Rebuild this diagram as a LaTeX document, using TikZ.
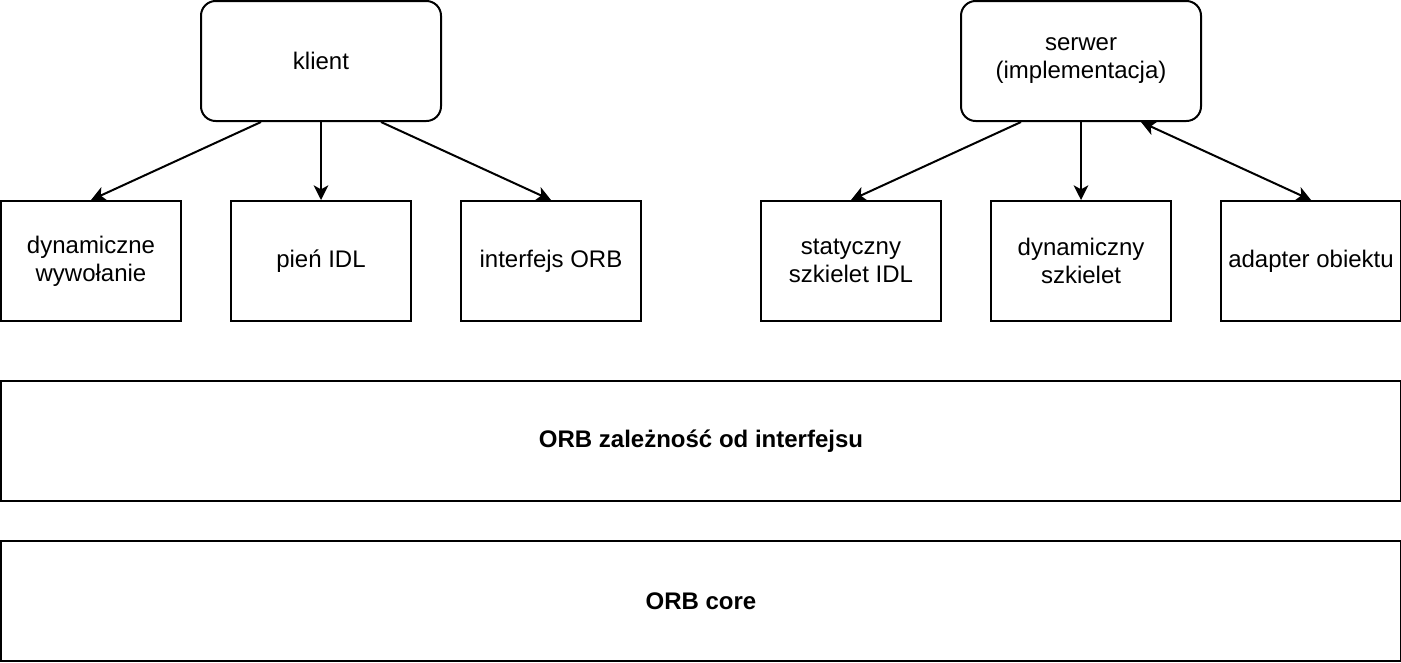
\documentclass[tikz,border=0pt]{standalone}
\usepackage{fontspec}
\setmainfont{Liberation Sans}
\usetikzlibrary{arrows.meta}

\begin{document}
\begin{tikzpicture}[x=0.75pt,y=-0.75pt,
  font=\fontsize{18}{21}\selectfont,
  box/.style={draw,line width=1.5pt,minimum width=135pt,minimum height=90pt,align=center,inner sep=2pt},
  top/.style={box,rounded corners=11pt,minimum width=180pt},
  layer/.style={box,minimum width=1050pt,font=\fontsize{18}{21}\selectfont\bfseries},
  tip/.tip={Stealth[length=11pt,width=11pt,inset=3pt]},
  arr/.style={line width=1.5pt,-tip}]
\useasboundingbox (-1,-1) rectangle (1400,661);

\node[top] (klient) at (320,60) {klient};
\node[top] (serwer) at (1080,60) {serwer\\(implementacja)};

\node[box] (dynwyw) at (90,260) {dynamiczne\\wywołanie};
\node[box] (pien) at (320,260) {pień IDL};
\node[box] (interf) at (550,260) {interfejs ORB};

\node[box] (statsz) at (850,260) {statyczny\\szkielet IDL};
\node[box] (dynsz) at (1080,260) {dynamiczny\\szkielet};
\node[box] (adapter) at (1310,260) {adapter obiektu};

\node[layer] (zalez) at (700,440) {ORB zależność od interfejsu};
\node[layer] (core) at (700,600) {ORB core};

\draw[arr] ([xshift=-45pt]klient.south) to (dynwyw.north);
\draw[arr] (klient) to (pien);
\draw[arr] ([xshift=45pt]klient.south) to (interf.north);

\draw[arr] ([xshift=-45pt]serwer.south) to (statsz.north);
\draw[arr] (serwer) to (dynsz);
\draw[arr,tip-tip] ([xshift=45pt]serwer.south) to (adapter.north);
\end{tikzpicture}
\end{document}
